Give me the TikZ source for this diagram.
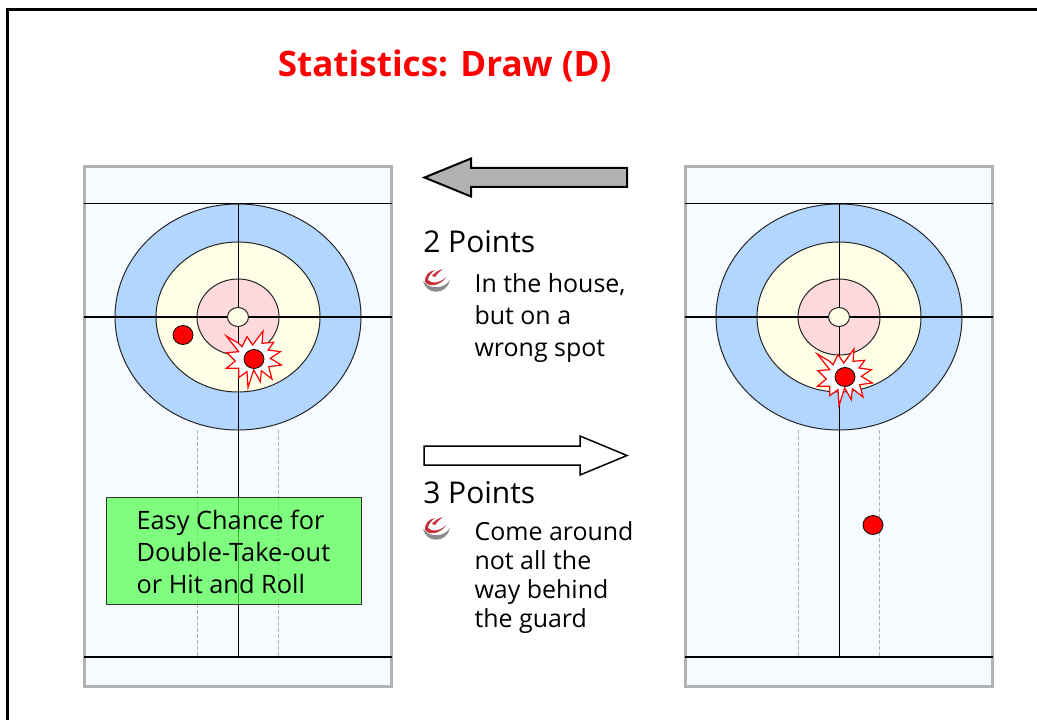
\documentclass[tikz,border=0pt]{standalone}
\usepackage{fontspec}
\setmainfont{Open Sans}
\definecolor{sheet}{HTML}{F5FBFF}
\definecolor{edge}{HTML}{B2B2B2}
\definecolor{ringblue}{HTML}{B2D6FF}
\definecolor{ringcream}{HTML}{FFFFE8}
\definecolor{ringpink}{HTML}{FFD9DC}
\definecolor{boxgreen}{HTML}{4EFF4A}
\definecolor{iconred}{HTML}{C8323C}
\definecolor{icongrey}{HTML}{8C8C8C}
\newlength{\px}\setlength{\px}{0.75pt}
\tikzset{
  sheetbox/.style={draw=edge,line width=3*\px,fill=sheet},
  ring/.style={draw=black!85,line width=1*\px},
  thinline/.style={line width=1*\px,draw=black},
  thickline/.style={line width=2*\px,draw=black},
  guide/.style={line width=.8*\px,draw=gray!60,dash pattern=on 3pt off 1.5pt},
  stone/.style={fill=red,draw=black,line width=.8*\px},
  burst/.style={draw=red,fill=white,line width=1.2*\px,line join=miter,miter limit=10},
  arrowshape/.style={draw=black,line width=2*\px,line join=miter,miter limit=10},
  label/.style={inner sep=0pt,anchor=base west,align=left},
  pts/.style={label,font=\fontsize{22.5}{26}\selectfont},
  bodyloose/.style={label,font=\fontsize{18.7}{24}\selectfont},
  bodytight/.style={label,font=\fontsize{18.7}{21.75}\selectfont},
}
\newcommand{\sheetdraw}[1]{%
  \begin{scope}[xshift=#1*\px]
    \draw[sheetbox] (84.5,166.5) rectangle (391,686);
    \draw[ring,fill=ringblue] (238,317) ellipse [x radius=123,y radius=113];
    \draw[ring,fill=ringcream] (238,317) ellipse [x radius=82,y radius=75];
    \draw[ring,fill=ringpink] (238,317) ellipse [x radius=41,y radius=38];
    \draw[thinline] (84,203.5) -- (392,203.5);
    \draw[thickline] (84,317) -- (392,317);
    \draw[thickline] (84,657) -- (392,657);
    \draw[thinline] (238,203) -- (238,657);
    \draw[guide] (197,430) -- (197,657);
    \draw[guide] (278,430) -- (278,657);
    \draw[ring,fill=ringcream] (238,317) ellipse [x radius=10.5,y radius=9.5];
  \end{scope}}
\newcommand{\burstdraw}[2]{%
  \draw[burst,shift={(#1,#2)},scale=1/3]
    (-83,-69)--(-46,-47)--(-36,-37)--(-21,-67)--(-4,-42)--(27,-84)--(24,-47)--(59,-50)--(42,-27)--(79,-22)--(49,-2)--(82,18)--(44,23)--(54,60)--(22,35)--(19,68)--(-1,33)--(-18,86)--(-21,38)--(-46,56)--(-46,28)--(-83,28)--(-56,6)--(-81,-19)--(-46,-22)--cycle;}
\newcommand{\bulletdraw}[2]{%
  \begin{scope}[shift={(#1,#2)}]
    \fill[icongrey] (8,19) .. controls (11,33) and (31,34) .. (35,18) .. controls (29,27) and (15,28) .. (8,19) -- cycle;
    \fill[iconred] (10,20) .. controls (9,14) and (14,9) .. (20,8) .. controls (16,11) and (13,15) .. (13,18) .. controls (16,22) and (26,21) .. (31,15) .. controls (27,23) and (14,26) .. (10,20) -- cycle;
    \fill[iconred] (17,14) .. controls (20,10) and (24,8) .. (28,7) .. controls (24,10) and (22,12) .. (20,15) -- cycle;
  \end{scope}}
\begin{document}
\begin{tikzpicture}[x=\px,y=-\px]
\useasboundingbox (0,0) rectangle (1037,720);
\fill[white] (0,0) rectangle (1037,720);
\draw[line width=3*\px,black] (7.5,720) -- (7.5,9.5) -- (1037,9.5);
\sheetdraw{0}
\sheetdraw{601}
\burstdraw{254}{359}
\burstdraw{845}{377}
\draw[stone] (183,335) ellipse [x radius=10,y radius=9.5];
\draw[stone] (254,359) ellipse [x radius=10,y radius=9.5];
\draw[stone] (845,377) ellipse [x radius=10,y radius=9.5];
\draw[stone] (873,525) ellipse [x radius=10,y radius=9.5];
\node[draw=black!80,line width=.8*\px,fill=boxgreen,fill opacity=.7,minimum width=255*\px,minimum height=107*\px,inner sep=0pt] (greenbox) at (234.2,550.5) {};
\node[bodyloose,font=\fontsize{19}{24}\selectfont] (greentext) at (136.3,593) {Easy Chance for\\Double-Take-out\\or Hit and Roll};
\node[label,font=\bfseries\fontsize{26.3}{30}\selectfont,text=red] (title) at (277.5,76.5) {Statistics: Draw (D)};
\draw[arrowshape,fill=edge] (424.5,177.5) -- (471,158.5) -- (471,168) -- (627,168) -- (627,187) -- (471,187) -- (471,196.5) -- cycle;
\draw[arrowshape,line width=1.5*\px,fill=white] (627,455.5) -- (580,436) -- (580,446) -- (424,446) -- (424,465) -- (580,465) -- (580,475) -- cycle;
\node[pts] (two) at (423,252) {2 Points};
\node[pts] (three) at (423,503) {3 Points};
\bulletdraw{415}{262}
\bulletdraw{415}{510}
\node[bodyloose] (b1) at (474.3,356) {In the house,\\but on a\\wrong spot};
\node[bodytight] (b2) at (474.3,627) {Come around\\not all the\\way behind\\the guard};
\end{tikzpicture}
\end{document}
